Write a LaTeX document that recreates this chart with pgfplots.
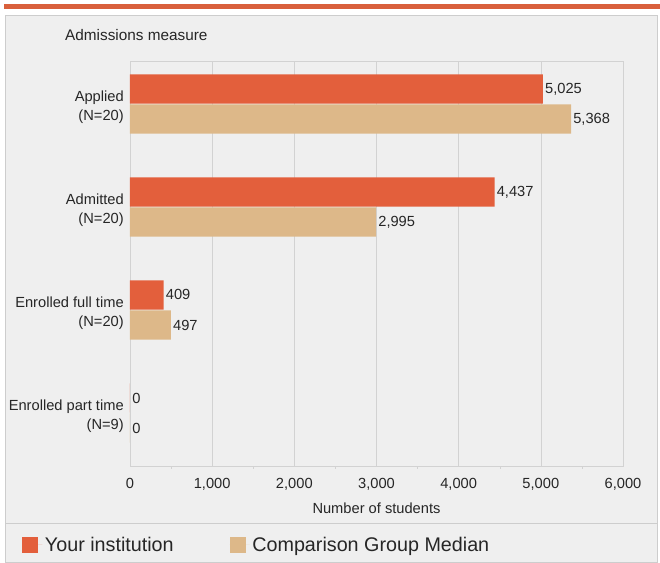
\documentclass[border=0pt]{standalone}
\usepackage{fontspec}
\setmainfont{Liberation Sans}
\usepackage{pgfplots}
\pgfplotsset{compat=1.18}

\definecolor{inst}{HTML}{E35F3C}
\definecolor{comp}{HTML}{DDB889}
\definecolor{topbar}{HTML}{D9603C}
\definecolor{panel}{HTML}{EFEFEF}
\definecolor{frame}{HTML}{CDCDCD}
\definecolor{gridc}{HTML}{D2D2D2}
\definecolor{txt}{HTML}{262626}

\begin{document}
\begin{tikzpicture}
% page frame, in pixels of the reference (axis corner at 130,466)
\begin{scope}[x=0.75pt,y=-0.75pt,shift={(-97.5pt,349.5pt)}]
  \useasboundingbox (0,0) rectangle (660,563);
  \fill[topbar] (4,4) rectangle (660,9);
  \filldraw[fill=panel,draw=frame] (5.5,15.5) rectangle (657.5,562.5);
  \draw[frame] (5.5,523) -- (657.5,523);
\end{scope}

\begin{axis}[
    at={(0,0)}, anchor=south west,
    scale only axis,
    width=369.75pt, height=303.75pt,
    xbar,
    bar width=22pt,
    xmin=0, xmax=6000,
    ymin=-0.515, ymax=3.417,
    xtick={0,1000,...,6000},
    minor x tick num=1,
    ytick={0,1,2,3},
    yticklabels={{Enrolled part time\\(N=9)},{Enrolled full time\\(N=20)},{Admitted\\(N=20)},{Applied\\(N=20)}},
    xmajorgrids=true,
    grid style={gridc},
    axis line style={gridc},
    major tick length=0pt,
    minor tick length=2pt,
    tick align=outside,
    tick style={gridc},
    xtick pos=bottom,
    /pgf/number format/1000 sep={,},
    /pgf/number format/assume math mode=true,
    xticklabel style={font=\fontsize{11}{13}\selectfont, text=txt, yshift=-6pt},
    yticklabel style={font=\fontsize{11}{14.25}\selectfont, text=txt, align=right, inner sep=0pt, xshift=-4.5pt, yshift=-2.5pt},
    xlabel={Number of students},
    xlabel style={font=\fontsize{11}{13}\selectfont, text=txt, at={(axis description cs:0.5,-0.104)}, anchor=center},
    nodes near coords,
    nodes near coords style={font=\fontsize{11}{13}\selectfont, text=txt, inner sep=1.5pt,
        /pgf/number format/1000 sep={,}},
    every axis plot post/.append style={
        legend image code/.code={\fill[##1] (0pt,-6pt) rectangle (12pt,6pt);
            \path (0pt,0pt) -- (15pt,0pt);}},
    legend columns=2,
    legend style={at={(axis description cs:-0.219,-0.195)}, anchor=west,
        draw=none, fill=none, inner sep=0pt,
        font=\fontsize{14.8}{17}\selectfont, text=txt,
        /tikz/every even column/.append style={column sep=40pt}},
    clip=false,
]
\addplot[fill=inst, draw=none, bar shift=11.25pt] coordinates {
    (5025,3) (4437,2) (409,1) (0,0)
};
\addlegendentry{Your institution}
\addplot[fill=comp, draw=none, bar shift=-11.25pt] coordinates {
    (5368,3) (2995,2) (497,1) (0,0)
};
\addlegendentry{Comparison Group Median}
\node[anchor=west, font=\fontsize{11.5}{13}\selectfont, text=txt, inner sep=0pt]
    at (axis description cs:-0.132,1.064) {Admissions measure};
\end{axis}
\end{tikzpicture}
\end{document}
